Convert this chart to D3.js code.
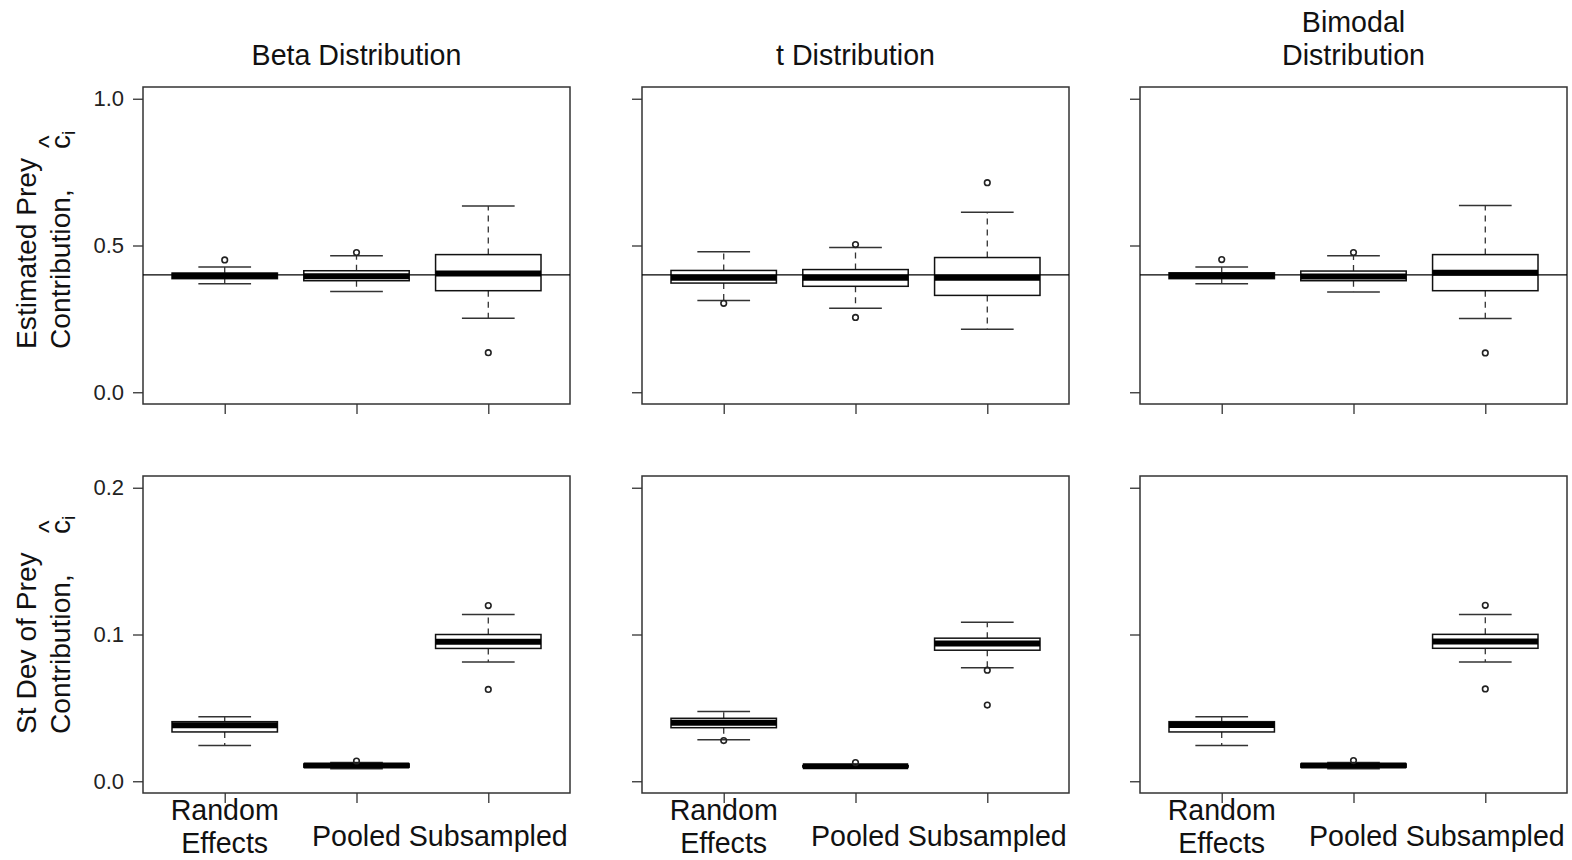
<!DOCTYPE html>
<html>
<head>
<meta charset="utf-8">
<script src="https://cdn.jsdelivr.net/npm/d3@7"></script>
<style>
  body { margin: 0; background: #fff; }
  svg { display: block; font-family: "Liberation Sans", Arial, sans-serif; }
  .tick text { font-size: 22px; fill: #222; }
  .tick line { stroke: #333; stroke-width: 1.3; }
</style>
</head>
<body>
<div id="chart"></div>
<script>
// group names and panel titles
const groups = ["Random\nEffects", "Pooled", "Subsampled"];
const distributions = ["Beta Distribution", "t Distribution", "Bimodal\nDistribution"];

// box stats per group: [lower whisker, Q1, median, Q3, upper whisker]
const estBeta = [[0.370, 0.387, 0.397, 0.406, 0.427], [0.343, 0.380, 0.395, 0.414, 0.465], [0.252, 0.346, 0.405, 0.469, 0.635]];
const estBetaOut = [[0.451], [0.476], [0.135]];
const estT = [[0.313, 0.372, 0.390, 0.415, 0.479], [0.286, 0.361, 0.390, 0.418, 0.493], [0.215, 0.330, 0.390, 0.459, 0.613]];
const estTOut = [[0.303], [0.503, 0.255], [0.714]];
const estBimodal = [[0.370, 0.387, 0.397, 0.407, 0.427], [0.342, 0.380, 0.394, 0.413, 0.465], [0.251, 0.346, 0.407, 0.469, 0.636]];
const estBimodalOut = [[0.452], [0.476], [0.134]];

const sdBeta = [[0.0243, 0.0336, 0.0381, 0.0406, 0.0440], [0.0086, 0.0096, 0.0107, 0.0118, 0.0128], [0.0812, 0.0905, 0.0950, 0.1000, 0.1136]];
const sdBetaOut = [[], [0.0138], [0.1197, 0.0626]];
const sdT = [[0.0283, 0.0365, 0.0399, 0.0429, 0.0476], [0.0092, 0.0097, 0.0102, 0.0107, 0.0112], [0.0773, 0.0893, 0.0939, 0.0975, 0.1084]];
const sdTOut = [[0.0277], [0.0127], [0.0757, 0.0519]];
const sdBimodal = [[0.0243, 0.0336, 0.0384, 0.0406, 0.0440], [0.0086, 0.0096, 0.0107, 0.0118, 0.0128], [0.0813, 0.0906, 0.0953, 0.1001, 0.1137]];
const sdBimodalOut = [[], [0.0141], [0.1199, 0.0629]];

const trueValue = 0.4;
const estTicks = [0, 0.5, 1.0];
const sdTicks = [0, 0.1, 0.2];

const width = 1572, height = 860;
const colX = [143, 642, 1140];
const panelW = 427;
const rows = [
  {top: 87, bottom: 404, domain: [-0.04, 1.04], ticks: estTicks, data: [estBeta, estT, estBimodal], out: [estBetaOut, estTOut, estBimodalOut], label: "Estimated Prey"},
  {top: 476, bottom: 793, domain: [-0.008, 0.208], ticks: sdTicks, data: [sdBeta, sdT, sdBimodal], out: [sdBetaOut, sdTOut, sdBimodalOut], label: "St Dev of Prey"}
];

const svg = d3.select("#chart").append("svg")
  .attr("width", width)
  .attr("height", height);

rows.forEach((row, ri) => {
  colX.forEach((x0, ci) => {
    const xScale = d3.scaleLinear().domain([0.38, 3.62]).range([x0, x0 + panelW]);
    const yScale = d3.scaleLinear().domain(row.domain).range([row.bottom, row.top]);
    const g = svg.append("g");

    // axes
    const yAxis = d3.axisLeft(yScale)
      .tickValues(row.ticks)
      .tickSize(10)
      .tickPadding(9)
      .tickFormat(ci === 0 ? d3.format(".1f") : () => "");
    const gy = g.append("g").attr("transform", `translate(${x0},0)`).call(yAxis);
    gy.select(".domain").remove();

    const xAxis = d3.axisBottom(xScale)
      .tickValues([1, 2, 3])
      .tickSize(10)
      .tickFormat(() => "");
    const gx = g.append("g").attr("transform", `translate(0,${row.bottom})`).call(xAxis);
    gx.select(".domain").remove();

    // frame
    g.append("rect")
      .attr("x", x0).attr("y", row.top)
      .attr("width", panelW).attr("height", row.bottom - row.top)
      .attr("fill", "none").attr("stroke", "#333").attr("stroke-width", 1.5);

    // boxplots
    row.data[ci].forEach((s, i) => {
      const cx = i + 1;
      const bg = g.append("g");
      // whiskers
      bg.append("line")
        .attr("x1", xScale(cx)).attr("x2", xScale(cx))
        .attr("y1", yScale(s[3])).attr("y2", yScale(s[4]))
        .attr("stroke", "#333").attr("stroke-width", 1.3).attr("stroke-dasharray", "6,5");
      bg.append("line")
        .attr("x1", xScale(cx)).attr("x2", xScale(cx))
        .attr("y1", yScale(s[1])).attr("y2", yScale(s[0]))
        .attr("stroke", "#333").attr("stroke-width", 1.3).attr("stroke-dasharray", "6,5");
      // caps
      [s[0], s[4]].forEach(v => {
        bg.append("line")
          .attr("x1", xScale(cx - 0.2)).attr("x2", xScale(cx + 0.2))
          .attr("y1", yScale(v)).attr("y2", yScale(v))
          .attr("stroke", "#333").attr("stroke-width", 1.5);
      });
      // box
      bg.append("rect")
        .attr("x", xScale(cx - 0.4))
        .attr("y", yScale(s[3]))
        .attr("width", xScale(cx + 0.4) - xScale(cx - 0.4))
        .attr("height", yScale(s[1]) - yScale(s[3]))
        .attr("fill", "#fff").attr("stroke", "#111").attr("stroke-width", 1.5);
      // median
      bg.append("line")
        .attr("x1", xScale(cx - 0.4)).attr("x2", xScale(cx + 0.4))
        .attr("y1", yScale(s[2])).attr("y2", yScale(s[2]))
        .attr("stroke", "#000").attr("stroke-width", 6);
      // outliers
      bg.selectAll("circle")
        .data(row.out[ci][i])
        .join("circle")
          .attr("cx", xScale(cx))
          .attr("cy", d => yScale(d))
          .attr("r", 2.8)
          .attr("fill", "none").attr("stroke", "#222").attr("stroke-width", 1.6);
    });

    // true value line
    if (ri === 0) {
      g.append("line")
        .attr("x1", x0).attr("x2", x0 + panelW)
        .attr("y1", yScale(trueValue)).attr("y2", yScale(trueValue))
        .attr("stroke", "#000").attr("stroke-width", 1.2);
    }

    // x labels on bottom row
    if (ri === 1) {
      groups.forEach((name, i) => {
        const lines = name.split("\n");
        const t = svg.append("text")
          .attr("text-anchor", "middle")
          .attr("font-size", 28.6)
          .attr("fill", "#111");
        lines.forEach((l, li) => {
          const yb = lines.length > 1 ? 820 + li * 33 : 846;
          t.append("tspan").attr("x", xScale(i + 1)).attr("y", yb).text(l);
        });
      });
    }

    // titles on top row
    if (ri === 0) {
      const lines = distributions[ci].split("\n");
      lines.forEach((l, li) => {
        svg.append("text")
          .attr("x", x0 + panelW / 2)
          .attr("y", lines.length > 1 ? 32 + li * 33 : 65)
          .attr("text-anchor", "middle")
          .attr("font-size", 28.6)
          .attr("fill", "#111")
          .text(l);
      });
    }
  });

  // y-axis label (rotated, left aligned at panel bottom side)
  const yStart = ri === 0 ? 349 : 734;
  const lab = svg.append("g").attr("transform", `translate(70,${yStart}) rotate(-90)`);
  lab.append("text").attr("x", 0).attr("y", -34).attr("font-size", 28.2).attr("fill", "#111").text(row.label);
  lab.append("text").attr("x", 0).attr("y", 0).attr("font-size", 28.2).attr("fill", "#111").text("Contribution,");
  lab.append("text").attr("x", 200).attr("y", 0).attr("font-size", 28.2).attr("fill", "#111").text("c");
  lab.append("text").attr("x", 201).attr("y", -12).attr("font-size", 27).attr("fill", "#111").text("^");
  lab.append("text").attr("x", 214).attr("y", 5).attr("font-size", 19).attr("fill", "#111").text("i");
});
</script>
</body>
</html>
